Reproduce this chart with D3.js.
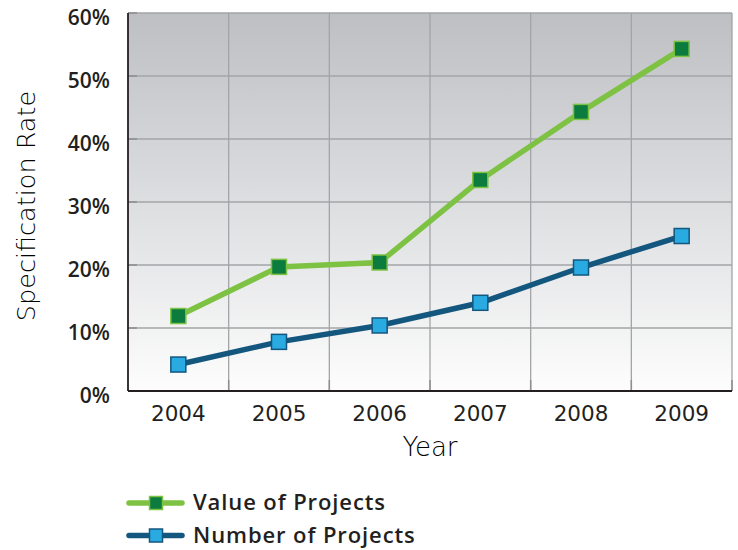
<!DOCTYPE html>
<html>
<head>
<meta charset="utf-8">
<script src="https://cdn.jsdelivr.net/npm/d3@7"></script>
<style>
  html, body { margin: 0; padding: 0; background: #fff; }
  svg { display: block; font-family: "Open Sans", "DejaVu Sans", sans-serif; }
</style>
</head>
<body>
<svg id="chart" width="738" height="550"></svg>
<script>
// Years on the x axis
const years = ["2004", "2005", "2006", "2007", "2008", "2009"];
// Specification rate (%) by value of projects
const valueOfProjects = [11.9, 19.7, 20.4, 33.5, 44.3, 54.3];
// Specification rate (%) by number of projects
const numberOfProjects = [4.2, 7.8, 10.4, 14.0, 19.6, 24.6];
// Y axis ticks (%)
const yTicks = [0, 10, 20, 30, 40, 50, 60];

const series = [
  { name: "Value of Projects", values: valueOfProjects, line: "#7dc242", fill: "#0b7b3e", stroke: "#7dc242" },
  { name: "Number of Projects", values: numberOfProjects, line: "#13577f", fill: "#29abe2", stroke: "#13577f" }
];

const svg = d3.select("#chart");
const margin = { left: 128, top: 13, right: 6, bottom: 159 };
const W = 738, H = 550;
const iw = W - margin.left - margin.right;
const ih = H - margin.top - margin.bottom;

const x = d3.scaleBand().domain(years).range([0, iw]);
const y = d3.scaleLinear().domain([0, 60]).range([ih, 0]);

const defs = svg.append("defs");
const grad = defs.append("linearGradient").attr("id", "bg").attr("x1", 0).attr("y1", 0).attr("x2", 0).attr("y2", 1);
grad.append("stop").attr("offset", "0%").attr("stop-color", "#bebfc3");
grad.append("stop").attr("offset", "55%").attr("stop-color", "#e0e1e3");
grad.append("stop").attr("offset", "100%").attr("stop-color", "#fdfdfd");

const g = svg.append("g").attr("transform", `translate(${margin.left},${margin.top})`);

g.append("rect").attr("width", iw).attr("height", ih).attr("fill", "url(#bg)");

// Grid lines
g.append("g").selectAll("line").data(yTicks.slice(1)).join("line")
  .attr("x1", 0).attr("x2", iw)
  .attr("y1", d => y(d)).attr("y2", d => y(d))
  .attr("stroke", "#a3a4a7").attr("stroke-width", 1.3);
const xb = years.map(d => x(d)).slice(1).concat([iw]);
g.append("g").selectAll("line").data(xb).join("line")
  .attr("x1", d => d).attr("x2", d => d)
  .attr("y1", 0).attr("y2", ih)
  .attr("stroke", "#a3a4a7").attr("stroke-width", 1.3);

// Small inward ticks
g.append("g").selectAll("line").data(yTicks.slice(1)).join("line")
  .attr("x1", 0).attr("x2", 9)
  .attr("y1", d => y(d)).attr("y2", d => y(d))
  .attr("stroke", "#8d8e91").attr("stroke-width", 1.5);
g.append("g").selectAll("line").data(xb).join("line")
  .attr("x1", d => d).attr("x2", d => d)
  .attr("y1", ih - 11).attr("y2", ih)
  .attr("stroke", "#8d8e91").attr("stroke-width", 1.5);

// Axes lines
g.append("line").attr("x1", 0).attr("x2", 0).attr("y1", 0).attr("y2", ih)
  .attr("stroke", "#231f20").attr("stroke-width", 1.8);
g.append("line").attr("x1", 0).attr("x2", iw).attr("y1", ih).attr("y2", ih)
  .attr("stroke", "#231f20").attr("stroke-width", 1.8);

// Tick labels via d3 axes
const yAxis = d3.axisLeft(y).tickValues(yTicks).tickFormat(d => d + "%").tickSize(0).tickPadding(18);
const ya = g.append("g").call(yAxis);
ya.select(".domain").remove();
ya.selectAll("text").attr("font-size", 21).attr("font-weight", 600).attr("fill", "#231f20")
  .attr("font-family", "'Open Sans', sans-serif").attr("dy", "0.55em");

const xAxis = d3.axisBottom(x).tickSize(0).tickPadding(15);
const xa = g.append("g").attr("transform", `translate(0,${ih})`).call(xAxis);
xa.select(".domain").remove();
xa.selectAll("text").attr("font-size", 21.5).attr("font-weight", 400).attr("fill", "#231f20")
  .attr("font-family", "'DejaVu Sans', sans-serif");

// Axis titles
svg.append("text").attr("x", margin.left + iw / 2).attr("y", 456)
  .attr("text-anchor", "middle").attr("font-size", 26).attr("font-weight", 200)
  .attr("font-family", "'DejaVu Sans', sans-serif")
  .attr("fill", "#000").text("Year");
svg.append("text").attr("transform", `translate(35,${206}) rotate(-90)`)
  .attr("text-anchor", "middle").attr("font-size", 25.5).attr("font-weight", 200)
  .attr("font-family", "'DejaVu Sans', sans-serif")
  .attr("fill", "#000").text("Specification Rate");

// Lines and markers
const cx = d => x(d) + x.bandwidth() / 2;
const line = d3.line().x((v, i) => cx(years[i])).y(v => y(v));
const ms = 15;
series.forEach(s => {
  g.append("path").attr("d", line(s.values)).attr("fill", "none")
    .attr("stroke", s.line).attr("stroke-width", 5.5).attr("stroke-linejoin", "round");
  g.append("g").selectAll("rect").data(s.values).join("rect")
    .attr("x", (v, i) => cx(years[i]) - ms / 2)
    .attr("y", v => y(v) - ms / 2)
    .attr("width", ms).attr("height", ms)
    .attr("fill", s.fill).attr("stroke", s.stroke).attr("stroke-width", 1.5);
});

// Legend
const lms = 13;
const legend = svg.append("g");
series.forEach((s, i) => {
  const ly = 503 + i * 32.5;
  legend.append("line").attr("x1", 129).attr("x2", 182).attr("y1", ly).attr("y2", ly)
    .attr("stroke", s.line).attr("stroke-width", 5.5).attr("stroke-linecap", "round");
  legend.append("rect").attr("x", 156 - lms / 2).attr("y", ly - lms / 2).attr("width", lms).attr("height", lms)
    .attr("fill", s.fill).attr("stroke", s.stroke).attr("stroke-width", 1.5);
  legend.append("text").attr("x", 193).attr("y", ly + 7).attr("font-size", 22).attr("font-weight", 600)
    .attr("letter-spacing", 0.9)
    .attr("fill", "#231f20").text(s.name);
});
</script>
</body>
</html>
